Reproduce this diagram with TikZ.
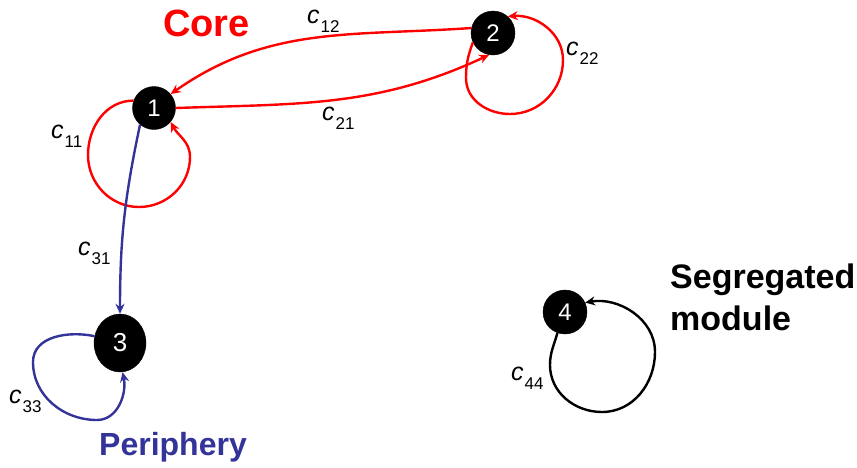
\documentclass[tikz,border=0pt]{standalone}
\usepackage{fontspec}
\setmainfont{Liberation Sans}
\usetikzlibrary{arrows.meta,shapes.geometric}
\definecolor{coreRed}{RGB}{255,0,0}
\definecolor{periBlue}{RGB}{51,51,153}
\newcommand{\clab}[1]{{\fontsize{25}{25}\selectfont\itshape c}\kern1pt\raisebox{-9pt}{\fontsize{17}{17}\selectfont #1}}
\tikzset{
  vtx/.style={circle,fill=black,draw=black,text=white,inner sep=0pt,minimum size=43pt,font=\fontsize{24}{24}\selectfont},
  arr/.style={line width=2.4pt,-{Stealth[length=10pt,width=9pt]}},
  redE/.style={arr,draw=coreRed},
  blueE/.style={arr,draw=periBlue},
  blackE/.style={arr,draw=black},
  elab/.style={anchor=base west,inner sep=0pt,text=black},
  title/.style={anchor=base west,inner sep=0pt}
}
\begin{document}
\begin{tikzpicture}[x=1pt,y=-1pt]
\useasboundingbox (0,0) rectangle (857,467);
% nodes
\node[vtx] (n1) at (154,108) {1};
\node[vtx,minimum size=44pt] (n2) at (493,33) {2};
\node[vtx,ellipse,minimum width=52pt,minimum height=58pt,font=\fontsize{26}{26}\selectfont] (n3) at (120,343) {3};
\node[vtx,minimum size=44pt] (n4) at (565,312) {4};
% loop helper coordinates
\coordinate (c11l) at (88,155);
\coordinate (c11b) at (139,207);
\coordinate (c11r) at (190,157);
\coordinate (c22l) at (466,78);
\coordinate (c22b) at (510,114);
\coordinate (c22r) at (563,60);
\coordinate (c33l) at (33,362);
\coordinate (c33b) at (97,420);
\coordinate (c44l) at (550,365);
\coordinate (c44b) at (602,412);
\coordinate (c44r) at (655,352);
% red core edges
\draw[redE] (n2.167) to[out=184,in=35] (n1.40);
\draw[redE] (n1.east) to[out=2,in=205] (n2.-100);
\draw[redE] (n1.160) to[out=180,in=90] (c11l) to[out=-90,in=180] (c11b)
  to[out=0,in=-90] (c11r) to[out=90,in=-62] (n1.-40);
\draw[redE] (n2.205) to[out=250,in=90] (c22l) to[out=-90,in=180] (c22b)
  to[out=0,in=-90] (c22r) to[out=90,in=5] (n2.48);
% blue periphery edges
\draw[blueE] (n1.-130) to[out=-102,in=90] (n3.north);
\draw[blueE] (n3.165) to[out=168,in=90] (c33l) to[out=-90,in=180] (c33b)
  to[out=0,in=-78] (n3.-85);
% black segregated loop
\draw[blackE] (n4.250) to[out=255,in=90] (c44l) to[out=-90,in=180] (c44b)
  to[out=0,in=-90] (c44r) to[out=90,in=10] (n4.25);
% edge labels
\node[elab] (l12) at (307,23) {\clab{12}};
\node[elab] (l21) at (322,120) {\clab{21}};
\node[elab] (l22) at (566,55) {\clab{22}};
\node[elab] (l11) at (51,138) {\clab{11}};
\node[elab] (l31) at (78,255) {\clab{31}};
\node[elab] (l33) at (9,403) {\clab{33}};
\node[elab] (l44) at (511,380) {\clab{44}};
% group titles
\node[title,text=coreRed,font=\bfseries\fontsize{38}{38}\selectfont] (tcore) at (163,36) {Core};
\node[title,text=periBlue,font=\bfseries\fontsize{32}{32}\selectfont] (tperi) at (99,455) {Periphery};
\node[title,text=black,font=\bfseries\fontsize{34}{34}\selectfont] (tseg1) at (670,288) {Segregated};
\node[title,text=black,font=\bfseries\fontsize{34}{34}\selectfont] (tseg2) at (670,330) {module};
\end{tikzpicture}
\end{document}
